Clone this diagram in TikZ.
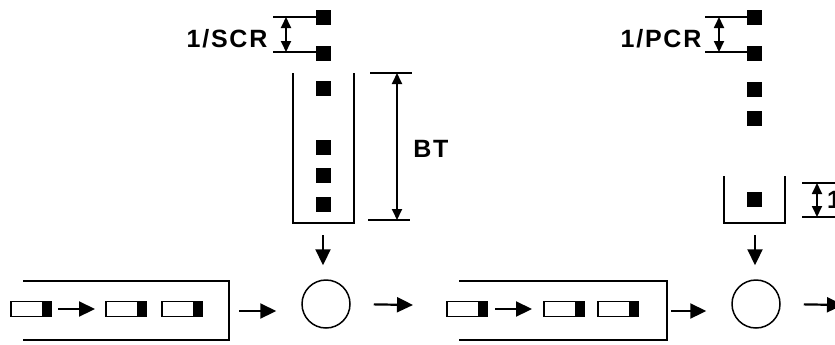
\documentclass[tikz,border=0pt]{standalone}
\usepackage{fontspec}
\setmainfont{Liberation Sans}
\newfontfamily\lblfont{Liberation Sans}[LetterSpace=7]
\usetikzlibrary{arrows.meta}
\tikzset{
  sq/.style={fill=black, draw=none, minimum size=15bp, inner sep=0pt, outer sep=0pt},
  pbody/.style={draw=black, fill=white, line width=1.5bp, minimum width=32bp, minimum height=15bp, inner sep=0pt, outer sep=0pt},
  pcap/.style={draw=black, fill=black, line width=0.6bp, minimum width=8bp, minimum height=15bp, inner sep=0pt, outer sep=0pt},
  station/.style={circle, draw=black, line width=1.5bp, minimum size=48bp, inner sep=0pt},
  boxline/.style={draw=black, line width=1.5bp},
  tickline/.style={draw=black, line width=1.4bp},
  flow/.style={draw=black, line width=2.2bp, -{Triangle[length=16bp,width=15bp]}},
  dimarrow/.style={draw=black, line width=1.8bp, {Triangle[length=11bp,width=10bp]}-{Triangle[length=11bp,width=10bp]}},
  lbl/.style={font=\lblfont\bfseries\fontsize{25bp}{28bp}\selectfont, inner sep=0pt}
}
\begin{document}
\begin{tikzpicture}[x=1bp,y=-1bp]
\useasboundingbox (0,0) rectangle (835,344);
\clip (0,0) rectangle (835,344);

% ---------- left station: supply squares ----------
\node[sq] (s1) at (323,17) {};
\node[sq] (s2) at (323,53) {};
\node[sq] (s3) at (323,88) {};
\node[sq] (s4) at (323,147) {};
\node[sq] (s5) at (323,175) {};
\node[sq] (s6) at (323,204) {};

% 1/SCR dimension
\coordinate (t1) at (273,17);
\coordinate (t2) at (273,52);
\draw[tickline] (t1) -- (s1.west);
\draw[tickline] (t2) -- (s2.west |- t2);
\coordinate (u1) at (286,17);
\coordinate (u2) at (286,52);
\draw[dimarrow] (u1) -- (u2);
\node[lbl] (l1) at (227,39) {1/SCR};

% buffer container
\draw[boxline] (293,73) -- (293,223) -- (354,223) -- (354,73);
\coordinate (k1) at (323,223);

% BT dimension
\coordinate (bt1) at (370,73);
\coordinate (bt2) at (412,73);
\coordinate (bt3) at (368,220);
\coordinate (bt4) at (410,220);
\draw[tickline] (bt1) -- (bt2);
\draw[tickline] (bt3) -- (bt4);
\coordinate (v1) at (397,73);
\coordinate (v2) at (397,220);
\draw[dimarrow] (v1) -- (v2);
\node[lbl] (l2) at (431,149) {BT};

% ---------- left line ----------
\draw[boxline] (23,281) -- (229,281) -- (229,340) -- (23,340);
\coordinate (b1) at (229,311);

\node[pbody] (p1) at (27,309) {};
\node[pcap, anchor=west] (p1c) at (p1.east) {};
\node[pbody] (p2) at (122,309) {};
\node[pcap, anchor=west] (p2c) at (p2.east) {};
\node[pbody] (p3) at (178,309) {};
\node[pcap, anchor=west] (p3c) at (p3.east) {};
\draw[flow, shorten <=7bp, shorten >=11bp] (p1c.east) -- (p2.west);

\node[station] (c1) at (326,304) {};
\draw[flow, shorten <=12bp, shorten >=14bp] (k1) -- (k1 |- c1.north);
\draw[flow, shorten <=10bp, shorten >=25bp] (b1) -- (b1 -| c1.west);
\coordinate (o1) at (413,305);
\draw[flow, shorten <=23bp] (c1.east) -- (o1);

% ---------- right station: supply squares ----------
\node[sq] (r1) at (754,17) {};
\node[sq] (r2) at (754,53) {};
\node[sq] (r3) at (754,89) {};
\node[sq] (r4) at (754,118) {};
\node[sq] (r5) at (754,199) {};

% 1/PCR dimension
\coordinate (w1) at (705,17);
\coordinate (w2) at (705,52);
\draw[tickline] (w1) -- (r1.west);
\draw[tickline] (w2) -- (r2.west |- w2);
\coordinate (x1) at (719,17);
\coordinate (x2) at (719,52);
\draw[dimarrow] (x1) -- (x2);
\node[lbl] (l3) at (661,39) {1/PCR};

% small container
\draw[boxline] (724,176) -- (724,223) -- (785,223) -- (785,176);
\coordinate (k2) at (755,223);

% right-edge dimension
\coordinate (y1) at (802,183);
\coordinate (y2) at (840,183);
\coordinate (y3) at (802,217);
\coordinate (y4) at (840,217);
\draw[tickline] (y1) -- (y2);
\draw[tickline] (y3) -- (y4);
\coordinate (z1) at (817,183);
\coordinate (z2) at (817,217);
\draw[dimarrow] (z1) -- (z2);
\node[lbl, anchor=west] (l4) at (827,200) {1};

% ---------- right line ----------
\draw[boxline] (459,281) -- (667,281) -- (667,340) -- (459,340);
\coordinate (b2) at (667,311);

\node[pbody] (q1) at (463,309) {};
\node[pcap, anchor=west] (q1c) at (q1.east) {};
\node[pbody] (q2) at (560,309) {};
\node[pcap, anchor=west] (q2c) at (q2.east) {};
\node[pbody] (q3) at (614,309) {};
\node[pcap, anchor=west] (q3c) at (q3.east) {};
\draw[flow, shorten <=8bp, shorten >=12bp] (q1c.east) -- (q2.west);

\node[station] (c2) at (756,304) {};
\draw[flow, shorten <=12bp, shorten >=14bp] (k2) -- (k2 |- c2.north);
\draw[flow, shorten <=4bp, shorten >=25bp] (b2) -- (b2 -| c2.west);
\coordinate (o2) at (843,305);
\draw[flow, shorten <=23bp] (c2.east) -- (o2);
\end{tikzpicture}
\end{document}
